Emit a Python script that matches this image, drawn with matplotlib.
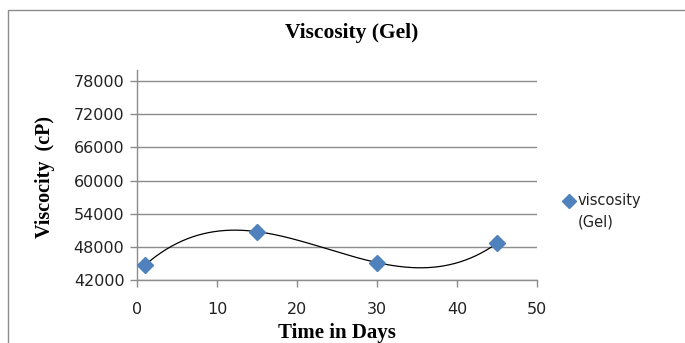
import numpy as np
import matplotlib
matplotlib.use('Agg')
import matplotlib.pyplot as plt
from matplotlib.patches import Rectangle

# --------------------------------------------------------------------------- #
days = [1, 15, 30, 45]
viscosity = [44700, 50750, 45150, 48650]
y_ticks = [42000, 48000, 54000, 60000, 66000, 72000, 78000]
x_ticks = [0, 10, 20, 30, 40, 50]

plt.rcParams['font.family'] = ['DejaVu Sans']

W, H = 685, 343
fig = plt.figure(figsize=(W / 100, H / 100), dpi=100)

# plot area in pixel coords (left, top, right, bottom)
l, t, r, b = 137, 70, 537, 280
ax = fig.add_axes([l / W, 1 - b / H, (r - l) / W, (b - t) / H])

grid_c = '#8c8c8c'
for s in ['top', 'right']:
    ax.spines[s].set_visible(False)
for s in ['left', 'bottom']:
    ax.spines[s].set_color(grid_c)
    ax.spines[s].set_linewidth(1)

ax.set_xlim(0, 50)
ax.set_ylim(42000, 80000)
ax.set_xticks(x_ticks)
ax.set_yticks(y_ticks)
ax.yaxis.grid(True, color=grid_c, lw=1)
ax.set_axisbelow(True)
ax.tick_params(axis='both', color=grid_c, length=5, width=1, labelsize=11.5,
               labelcolor='#222222')
ax.tick_params(axis='x', pad=11)
ax.tick_params(axis='y', pad=4)

# 3rd order polynomial trendline
coef = np.polyfit(days, viscosity, 3)
xs = np.linspace(min(days), max(days), 200)
ax.plot(xs, np.polyval(coef, xs), color='black', lw=0.9, zorder=2)
ax.plot(days, viscosity, ls='none', marker='D', ms=8, color='#4f81bd',
        mec='#4f81bd', zorder=3, clip_on=False)

serif = ['Liberation Serif', 'DejaVu Serif']
fig.text(352 / W, 1 - 33 / H, 'Viscosity (Gel)', ha='center', va='center',
         fontsize=15.5, fontweight='bold', family=serif)
fig.text(45 / W, 1 - 177 / H, 'Viscocity  (cP)', ha='center', va='center',
         rotation=90, fontsize=14.5, fontweight='bold', family=serif)
fig.text(337 / W, 1 - 333 / H, 'Time in Days', ha='center', va='center',
         fontsize=15, fontweight='bold', family=serif)

# legend
fig.lines.append(plt.Line2D([569 / W], [1 - 201 / H], transform=fig.transFigure,
                            ls='none', marker='D', ms=7, color='#4f81bd'))
fig.text(578 / W, 1 - 201 / H, 'viscosity', ha='left', va='center',
         fontsize=10.5, color='#222222')
fig.text(578 / W, 1 - 222 / H, '(Gel)', ha='left', va='center',
         fontsize=10.5, color='#222222')

# chart border
fig.patches.append(Rectangle((8 / W, -0.1), 1.2, 1 - 10 / H + 0.1,
                             transform=fig.transFigure, fill=False,
                             ec='#8c8c8c', lw=1))

fig.savefig('out.png', dpi=100)
